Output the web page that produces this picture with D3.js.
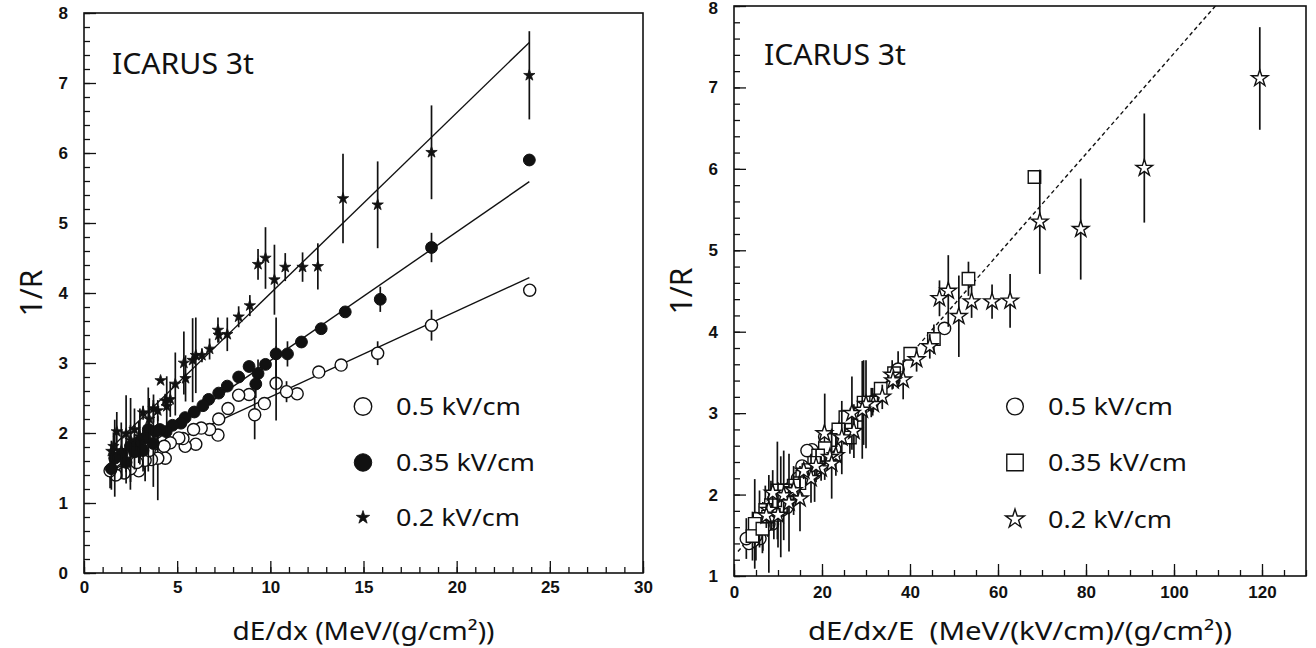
<!DOCTYPE html>
<html lang="en">
<head>
<meta charset="utf-8">
<script src="https://d3js.org/d3.v7.min.js"></script>
<style>
  body { margin: 0; background: #fff; }
  text { fill: #111; }
</style>
</head>
<body>
<script>
// field values (kV/cm) and legend labels
const fields = [0.5, 0.35, 0.2];
const fieldLabels = ["0.5 kV/cm", "0.35 kV/cm", "0.2 kV/cm"];

// [dE/dx, 1/R, error]
const open05 = [
  [23.92, 4.04, 0], [18.65, 3.54, 0.22], [15.76, 3.14, 0.17], [13.8, 2.97, 0], [12.6, 2.87, 0],
  [11.44, 2.56, 0], [10.87, 2.59, 0.15], [10.31, 2.71, 0.53], [9.68, 2.42, 0], [9.16, 2.26, 0.35],
  [8.86, 2.55, 0], [8.3, 2.54, 0], [7.73, 2.35, 0], [7.23, 2.2, 0], [7.19, 1.97, 0],
  [6.74, 2.05, 0], [6.29, 2.07, 0], [5.88, 2.05, 0], [6.0, 1.84, 0], [5.43, 1.81, 0],
  [5.31, 1.92, 0], [5.09, 1.93, 0], [4.63, 1.86, 0], [4.3, 1.81, 0], [4.36, 1.64, 0],
  [3.96, 1.64, 0.6], [3.62, 1.62, 0], [3.28, 1.61, 0.3], [2.94, 1.46, 0], [2.49, 1.49, 0.3],
  [2.15, 1.43, 0], [1.7, 1.4, 0], [1.4, 1.46, 0.25], [3.5, 1.75, 0], [2.83, 1.58, 0]
];
const full035 = [
  [23.9, 5.9, 0], [18.65, 4.65, 0.21], [15.9, 3.91, 0.18], [14.02, 3.73, 0], [12.73, 3.49, 0],
  [11.67, 3.3, 0], [10.92, 3.13, 0.18], [10.31, 3.13, 0.52], [9.74, 2.98, 0], [9.34, 2.85, 0.2],
  [9.22, 2.7, 0.2], [8.86, 2.95, 0], [8.3, 2.8, 0], [7.69, 2.67, 0], [7.23, 2.57, 0],
  [6.69, 2.48, 0], [6.38, 2.39, 0], [5.92, 2.3, 0], [5.43, 2.22, 0], [5.2, 2.14, 0],
  [4.75, 2.11, 0], [4.41, 2.02, 0], [4.07, 2.05, 0], [3.84, 2.02, 0], [3.45, 2.05, 0.6],
  [3.72, 1.85, 0.62], [3.28, 1.93, 0], [2.94, 1.87, 0.3], [2.49, 1.81, 0.3], [2.03, 1.7, 0.35],
  [1.65, 1.64, 0.55], [1.47, 1.49, 0.3], [2.26, 1.58, 0.3], [2.71, 1.73, 0.25], [3.17, 1.75, 0.3]
];
const star02 = [
  [23.9, 7.11, 0.63], [18.65, 6.01, 0.67], [15.76, 5.26, 0.62], [13.9, 5.35, 0.64], [12.55, 4.38, 0.33],
  [11.73, 4.37, 0.21], [10.8, 4.37, 0.2], [10.22, 4.19, 0.5], [9.74, 4.5, 0.44], [9.34, 4.41, 0.22],
  [8.9, 3.82, 0.15], [8.3, 3.66, 0.15], [7.69, 3.41, 0.24], [7.19, 3.47, 0.18], [7.23, 3.4, 0.1],
  [6.74, 3.2, 0.15], [6.33, 3.11, 0.1], [6.0, 3.11, 0.54], [5.83, 3.04, 0.6], [5.36, 3.0, 0.45],
  [5.45, 2.78, 0.33], [4.9, 2.7, 0.45], [4.63, 2.48, 0.25], [4.36, 2.46, 0.1], [4.11, 2.75, 0],
  [3.96, 2.32, 0.15], [3.73, 2.35, 0.2], [3.5, 2.2, 0.3], [3.17, 2.29, 0.1], [2.71, 2.05, 0.3],
  [2.26, 1.99, 0.55], [1.76, 2.02, 0.28], [1.58, 1.81, 0.2], [1.47, 1.74, 0.15], [2.0, 1.75, 0.4],
  [2.5, 1.9, 0.6], [3.0, 1.95, 0.4], [4.44, 2.38, 0.43]
];

// fit lines, [x0, y0, x1, y1]
const fitLeft = [[1.5, 1.47, 23.9, 4.22], [1.5, 1.47, 23.9, 5.59], [1.5, 1.8, 23.9, 7.58]];
const fitRight = [0.9, 1.3, 112, 8.16];

const leftXTicks = d3.range(0, 31, 5);
const leftYTicks = d3.range(0, 9, 1);
const rightXTicks = d3.range(0, 121, 20);
const rightYTicks = d3.range(1, 9, 1);

const W = 1316, H = 648;
const svg = d3.select("body").append("svg").attr("width", W).attr("height", H);
const labelFont = "'Noto Sans', 'DejaVu Sans', sans-serif";
const legendWidths = [125, 139, 124];

function drawPanel(p) {
  const x = d3.scaleLinear().domain(p.xDom).range(p.xRange);
  const y = d3.scaleLinear().domain(p.yDom).range(p.yRange);
  const g = svg.append("g");
  const id = "clip" + p.name;
  svg.append("clipPath").attr("id", id).append("rect")
    .attr("x", p.xRange[0]).attr("y", p.yRange[1])
    .attr("width", p.xRange[1] - p.xRange[0]).attr("height", p.yRange[0] - p.yRange[1]);

  // minor ticks
  g.append("g").attr("transform", "translate(0," + p.yRange[0] + ")")
    .call(d3.axisBottom(x).tickValues(d3.range(p.xDom[0], p.xDom[1] + 0.001, p.xMinor)).tickSize(-6).tickFormat(""))
    .call(a => a.select(".domain").remove());
  g.append("g").attr("transform", "translate(" + p.xRange[0] + ",0)")
    .call(d3.axisLeft(y).tickValues(d3.range(p.yDom[0], p.yDom[1] + 0.001, 0.2)).tickSize(-6).tickFormat(""))
    .call(a => a.select(".domain").remove());
  // major ticks
  g.append("g").attr("transform", "translate(0," + p.yRange[0] + ")")
    .call(d3.axisBottom(x).tickValues(p.xTicks).tickSize(-12).tickPadding(p.xPad).tickFormat(d3.format("d")))
    .call(a => a.select(".domain").remove());
  g.append("g").attr("transform", "translate(" + p.xRange[0] + ",0)")
    .call(d3.axisLeft(y).tickValues(p.yTicks).tickSize(-12).tickPadding(16).tickFormat(d3.format("d")))
    .call(a => a.select(".domain").remove())
    .call(a => a.selectAll(".tick text").attr("dy", d => (y(d) < 8 ? "0.45em" : "0.32em")));
  g.selectAll(".tick line").attr("stroke", "#111").attr("stroke-width", 1.3);
  g.selectAll(".tick text").attr("font-family", "'Liberation Sans', Arial, sans-serif")
    .attr("font-weight", "bold").attr("font-size", 17).attr("fill", "#111");

  g.append("rect").attr("x", p.xRange[0]).attr("y", p.yRange[1])
    .attr("width", p.xRange[1] - p.xRange[0]).attr("height", p.yRange[0] - p.yRange[1])
    .attr("fill", "none").attr("stroke", "#111").attr("stroke-width", 1.6);

  // fit lines
  const lg = g.append("g").attr("clip-path", "url(#" + id + ")");
  p.lines.forEach(l => {
    lg.append("line").attr("x1", x(l[0])).attr("y1", y(l[1])).attr("x2", x(l[2])).attr("y2", y(l[3]))
      .attr("stroke", "#111").attr("stroke-width", 1.4).attr("stroke-dasharray", p.dash);
  });

  // data: error bars first, markers on top
  p.series.forEach(s => {
    const sg = g.append("g").attr("clip-path", "url(#" + id + ")");
    const pts = s.data.map(d => ({ x: d[0] / s.div, y: d[1], e: d[2] }));
    sg.selectAll("line.err").data(pts.filter(d => d.e > 0)).join("line")
      .attr("x1", d => x(d.x)).attr("x2", d => x(d.x))
      .attr("y1", d => y(d.y - d.e)).attr("y2", d => y(d.y + d.e))
      .attr("stroke", "#111").attr("stroke-width", 1.7);
    sg.selectAll("path.m").data(pts).join("path")
      .attr("transform", d => "translate(" + x(d.x) + "," + y(d.y) + ")")
      .attr("d", d3.symbol().type(s.sym).size(s.size))
      .attr("fill", s.fill).attr("stroke", "#111").attr("stroke-width", s.sw);
  });

  // legend
  p.series.forEach((s, i) => {
    const ly = p.legY[i];
    g.append("path").attr("transform", "translate(" + p.legX + "," + ly + ")")
      .attr("d", d3.symbol().type(s.sym).size(s.legSize))
      .attr("fill", s.fill).attr("stroke", "#111").attr("stroke-width", s.sw);
    g.append("text").attr("x", p.legX + 33).attr("y", ly + 8.5)
      .attr("font-family", labelFont).attr("font-size", 24)
      .attr("textLength", legendWidths[i]).attr("lengthAdjust", "spacingAndGlyphs")
      .text(fieldLabels[i]);
  });

  g.append("text").attr("x", p.titleX).attr("y", p.titleY)
    .attr("font-family", labelFont).attr("font-size", 29)
    .attr("textLength", 142).attr("lengthAdjust", "spacingAndGlyphs").text("ICARUS 3t");
  g.append("text").attr("x", (p.xRange[0] + p.xRange[1]) / 2).attr("y", p.xTitleY)
    .attr("text-anchor", "middle").attr("font-family", labelFont).attr("font-size", 25)
    .attr("xml:space", "preserve")
    .attr("textLength", p.xTitleW).attr("lengthAdjust", "spacingAndGlyphs")
    .text(p.xTitle);
  g.append("text").attr("transform", "translate(" + p.yTitleX + "," + (p.yRange[0] + p.yRange[1]) / 2 + ") rotate(-90)")
    .attr("text-anchor", "middle").attr("font-family", labelFont).attr("font-size", 30).text("1/R");
}

drawPanel({
  name: "L", xDom: [0, 30], yDom: [0, 8], xRange: [84, 643], yRange: [573, 13],
  xTicks: leftXTicks, yTicks: leftYTicks, xMinor: 1, xPad: 8,
  lines: fitLeft, dash: null,
  series: [
    { data: open05, div: 1, sym: d3.symbolCircle, size: 115, fill: "#fff", sw: 1.4, legSize: 240 },
    { data: full035, div: 1, sym: d3.symbolCircle, size: 110, fill: "#111", sw: 1, legSize: 240 },
    { data: star02, div: 1, sym: d3.symbolStar, size: 40, fill: "#111", sw: 0.8, legSize: 55 }
  ],
  legX: 363, legY: [406.5, 462.5, 517.5],
  titleX: 112, titleY: 74, xTitleY: 640, xTitleW: 262, yTitleX: 42,
  xTitle: "dE/dx (MeV/(g/cm\u00B2))"
});

drawPanel({
  name: "R", xDom: [0, 130], yDom: [1, 8], xRange: [734, 1306], yRange: [576, 6],
  xTicks: rightXTicks, yTicks: rightYTicks, xMinor: 5, xPad: 10,
  lines: [fitRight], dash: "4,3",
  series: [
    { data: open05, div: fields[0], sym: d3.symbolCircle, size: 120, fill: "#fff", sw: 1.4, legSize: 220 },
    { data: full035, div: fields[1], sym: d3.symbolSquare, size: 155, fill: "#fff", sw: 1.4, legSize: 270 },
    { data: star02, div: fields[2], sym: d3.symbolStar, size: 85, fill: "#fff", sw: 1.4, legSize: 110 }
  ],
  legX: 1015, legY: [406.5, 462.5, 519],
  titleX: 764, titleY: 65, xTitleY: 640, xTitleW: 424, yTitleX: 692,
  xTitle: "dE/dx/E  (MeV/(kV/cm)/(g/cm\u00B2))"
});
</script>
</body>
</html>
